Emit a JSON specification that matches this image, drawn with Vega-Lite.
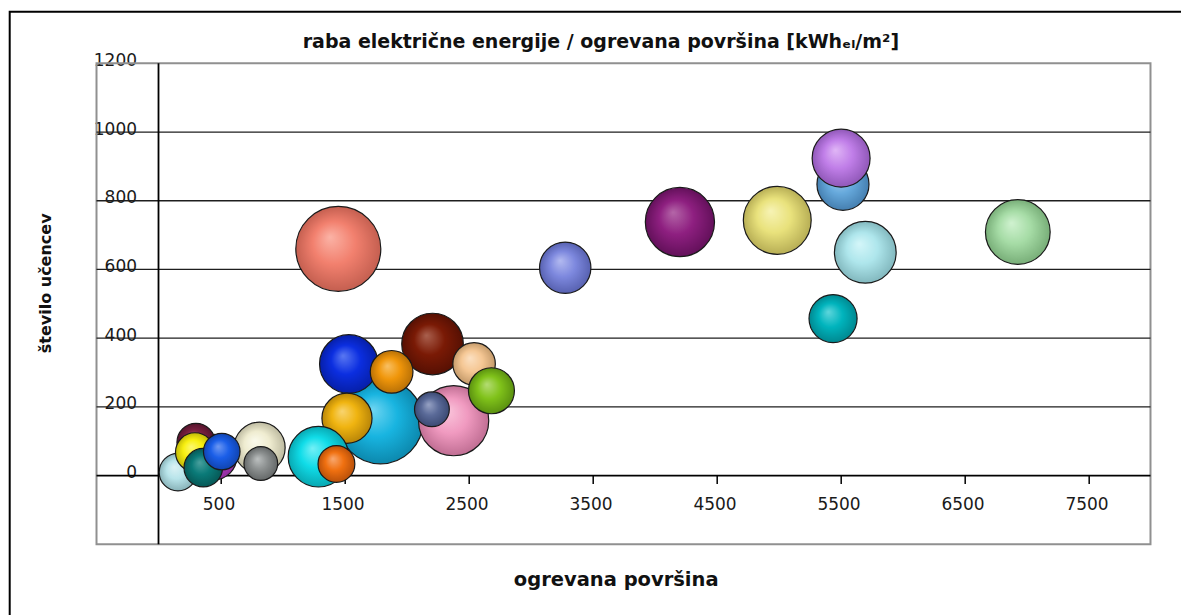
{
  "$schema": "https://vega.github.io/schema/vega-lite/v6.json",
  "width": 1190.4,
  "height": 635.6,
  "autosize": {"type": "none"},
  "padding": {"left": 9.7, "top": 11.8, "right": 0, "bottom": 0},
  "background": "white",
  "config": {
    "view": {"stroke": "#000000", "strokeWidth": 2},
    "axis": {"labelFont": "DejaVu Sans", "titleFont": "DejaVu Sans"}
  },
  "title": {
    "text": "raba električne energije / ogrevana površina [kWhₑₗ/m²]",
    "font": "DejaVu Sans",
    "fontSize": 19,
    "fontWeight": "bold",
    "color": "#111111",
    "anchor": "middle",
    "frame": "group",
    "baseline": "alphabetic",
    "offset": -55,
    "dx": -4
  },
  "datasets": {
    "sole": [
      {"id": "b01", "povrsina": 1450, "ucenci": 660, "raba": 40.0},
      {"id": "b02", "povrsina": 3280, "ucenci": 605, "raba": 14.6},
      {"id": "b03", "povrsina": 4205, "ucenci": 738, "raba": 26.5},
      {"id": "b04", "povrsina": 4990, "ucenci": 743, "raba": 25.5},
      {"id": "b05", "povrsina": 5520, "ucenci": 848, "raba": 15.0},
      {"id": "b06", "povrsina": 5505, "ucenci": 924, "raba": 18.6},
      {"id": "b07", "povrsina": 5700, "ucenci": 650, "raba": 21.1},
      {"id": "b08", "povrsina": 5440, "ucenci": 457, "raba": 12.8},
      {"id": "b09", "povrsina": 6930, "ucenci": 709, "raba": 23.2},
      {"id": "b10", "povrsina": 1790, "ucenci": 158, "raba": 40.0},
      {"id": "b11", "povrsina": 1535, "ucenci": 325, "raba": 19.0},
      {"id": "b12", "povrsina": 2210, "ucenci": 383, "raba": 21.0},
      {"id": "b13", "povrsina": 2380, "ucenci": 160, "raba": 27.3},
      {"id": "b14", "povrsina": 1520, "ucenci": 167, "raba": 13.9},
      {"id": "b15", "povrsina": 1880, "ucenci": 302, "raba": 10.1},
      {"id": "b16", "povrsina": 2545, "ucenci": 325, "raba": 10.0},
      {"id": "b17", "povrsina": 2685, "ucenci": 247, "raba": 11.7},
      {"id": "b18", "povrsina": 2205, "ucenci": 193, "raba": 6.7},
      {"id": "b19", "povrsina": 1290, "ucenci": 55, "raba": 20.3},
      {"id": "b20", "povrsina": 1435, "ucenci": 34, "raba": 7.5},
      {"id": "b21", "povrsina": 815, "ucenci": 81, "raba": 14.5},
      {"id": "b22", "povrsina": 825, "ucenci": 35, "raba": 6.3},
      {"id": "b23", "povrsina": 448, "ucenci": 54, "raba": 11.4},
      {"id": "b24", "povrsina": 254, "ucenci": 31, "raba": 7.8},
      {"id": "b25", "povrsina": 157, "ucenci": 10, "raba": 7.8},
      {"id": "b26", "povrsina": 302, "ucenci": 97, "raba": 8.0},
      {"id": "b27", "povrsina": 294, "ucenci": 68, "raba": 8.4},
      {"id": "b28", "povrsina": 361, "ucenci": 23, "raba": 8.2},
      {"id": "b29", "povrsina": 510, "ucenci": 70, "raba": 7.4}
    ],
    "mreza": [{"v": 200}, {"v": 400}, {"v": 600}, {"v": 800}, {"v": 1000}]
  },
  "layer": [
    {
      "data": {"values": [{}]},
      "mark": {"type": "rect", "filled": false, "stroke": "#909090", "strokeWidth": 2},
      "encoding": {
        "x": {"datum": -500, "type": "quantitative"},
        "x2": {"datum": 8000},
        "y": {"datum": -200, "type": "quantitative"},
        "y2": {"datum": 1200}
      }
    },
    {
      "data": {"name": "mreza"},
      "mark": {"type": "rule", "stroke": "#1e1e1e", "strokeWidth": 1.3},
      "encoding": {
        "y": {"field": "v", "type": "quantitative"},
        "x": {"datum": -500, "type": "quantitative"},
        "x2": {"datum": 8000}
      }
    },
    {
      "data": {"values": [{}]},
      "mark": {"type": "rule", "stroke": "#000000", "strokeWidth": 1.8},
      "encoding": {
        "y": {"datum": 0, "type": "quantitative"},
        "x": {"datum": -500, "type": "quantitative"},
        "x2": {"datum": 8000}
      }
    },
    {
      "data": {"values": [{}]},
      "mark": {"type": "rule", "stroke": "#000000", "strokeWidth": 1.8},
      "encoding": {
        "x": {"datum": 0, "type": "quantitative"},
        "y": {"datum": -200, "type": "quantitative"},
        "y2": {"datum": 1200}
      }
    },
    {
      "data": {"name": "sole"},
      "mark": {"type": "point", "shape": "circle", "filled": true, "opacity": 1, "stroke": "#1a1a1a", "strokeWidth": 1.2},
      "encoding": {
        "x": {
          "field": "povrsina",
          "type": "quantitative",
          "scale": {"domain": [-1200, 8400], "nice": false, "zero": false},
          "axis": {
            "title": "ogrevana površina",
            "values": [500, 1500, 2500, 3500, 4500, 5500, 6500, 7500],
            "format": "d",
            "offset": -171.8,
            "domain": false,
            "grid": false,
            "ticks": true,
            "tickSize": 8,
            "tickColor": "#000000",
            "tickWidth": 1.5,
            "labelPadding": 13,
            "labelFontSize": 17,
            "labelColor": "#1a1a1a",
            "labelOffset": -2,
            "titleFontSize": 19.5,
            "titleFontWeight": "bold",
            "titleColor": "#111111",
            "titleX": 606,
            "titleY": 104,
            "titleBaseline": "middle"
          }
        },
        "y": {
          "field": "ucenci",
          "type": "quantitative",
          "scale": {"domain": [-500, 1350], "nice": false, "zero": false},
          "axis": {
            "title": "število učencev",
            "values": [0, 200, 400, 600, 800, 1000, 1200],
            "format": "d",
            "offset": -148.8,
            "domain": false,
            "grid": false,
            "ticks": false,
            "labelPadding": 22,
            "labelFontSize": 17,
            "labelColor": "#1a1a1a",
            "labelBaseline": "middle",
            "labelOffset": -3,
            "titleFontSize": 16,
            "titleFontWeight": "bold",
            "titleColor": "#111111",
            "titleAngle": -90,
            "titleAlign": "center",
            "titleBaseline": "middle",
            "titleX": -113,
            "titleY": 271
          }
        },
        "size": {
          "field": "raba",
          "type": "quantitative",
          "scale": {"domain": [0, 40], "range": [0, 7225]},
          "legend": null
        },
        "color": {
          "field": "id",
          "type": "nominal",
          "legend": null,
          "scale": {
            "domain": ["b01","b02","b03","b04","b05","b06","b07","b08","b09","b10","b11","b12","b13","b14","b15","b16","b17","b18","b19","b20","b21","b22","b23","b24","b25","b26","b27","b28","b29"],
            "range": [
              {"expr": "{gradient:'radial',x1:0.4,y1:0.36,r1:0,x2:0.5,y2:0.5,r2:0.5,stops:[{offset:0,color:'#fbb3a6'},{offset:0.5,color:'#f2806e'},{offset:1,color:'#c45f50'}]}"},
              {"expr": "{gradient:'radial',x1:0.4,y1:0.36,r1:0,x2:0.5,y2:0.5,r2:0.5,stops:[{offset:0,color:'#b3baf0'},{offset:0.5,color:'#7d88de'},{offset:1,color:'#5761b0'}]}"},
              {"expr": "{gradient:'radial',x1:0.4,y1:0.36,r1:0,x2:0.5,y2:0.5,r2:0.5,stops:[{offset:0,color:'#b466a8'},{offset:0.5,color:'#8e1f80'},{offset:1,color:'#63105a'}]}"},
              {"expr": "{gradient:'radial',x1:0.4,y1:0.36,r1:0,x2:0.5,y2:0.5,r2:0.5,stops:[{offset:0,color:'#f7f3b5'},{offset:0.5,color:'#e9e27c'},{offset:1,color:'#b7ae55'}]}"},
              {"expr": "{gradient:'radial',x1:0.4,y1:0.36,r1:0,x2:0.5,y2:0.5,r2:0.5,stops:[{offset:0,color:'#a6d0f0'},{offset:0.5,color:'#66a9dc'},{offset:1,color:'#457fb0'}]}"},
              {"expr": "{gradient:'radial',x1:0.4,y1:0.36,r1:0,x2:0.5,y2:0.5,r2:0.5,stops:[{offset:0,color:'#e0b6f6'},{offset:0.5,color:'#c07ee8'},{offset:1,color:'#9058b8'}]}"},
              {"expr": "{gradient:'radial',x1:0.4,y1:0.36,r1:0,x2:0.5,y2:0.5,r2:0.5,stops:[{offset:0,color:'#d4f6f9'},{offset:0.5,color:'#aee6ec'},{offset:1,color:'#82b8be'}]}"},
              {"expr": "{gradient:'radial',x1:0.4,y1:0.36,r1:0,x2:0.5,y2:0.5,r2:0.5,stops:[{offset:0,color:'#5fd6dc'},{offset:0.5,color:'#00b4bd'},{offset:1,color:'#008890'}]}"},
              {"expr": "{gradient:'radial',x1:0.4,y1:0.36,r1:0,x2:0.5,y2:0.5,r2:0.5,stops:[{offset:0,color:'#d0f2d0'},{offset:0.5,color:'#a6dca6'},{offset:1,color:'#78ae78'}]}"},
              {"expr": "{gradient:'radial',x1:0.4,y1:0.36,r1:0,x2:0.5,y2:0.5,r2:0.5,stops:[{offset:0,color:'#70d6f2'},{offset:0.5,color:'#18b4e0'},{offset:1,color:'#0c88ad'}]}"},
              {"expr": "{gradient:'radial',x1:0.4,y1:0.36,r1:0,x2:0.5,y2:0.5,r2:0.5,stops:[{offset:0,color:'#5a78f2'},{offset:0.5,color:'#0b2ee0'},{offset:1,color:'#061fa8'}]}"},
              {"expr": "{gradient:'radial',x1:0.4,y1:0.36,r1:0,x2:0.5,y2:0.5,r2:0.5,stops:[{offset:0,color:'#a9604e'},{offset:0.5,color:'#7a1a05'},{offset:1,color:'#561003'}]}"},
              {"expr": "{gradient:'radial',x1:0.4,y1:0.36,r1:0,x2:0.5,y2:0.5,r2:0.5,stops:[{offset:0,color:'#fac6dc'},{offset:0.5,color:'#f09ac0'},{offset:1,color:'#c06e93'}]}"},
              {"expr": "{gradient:'radial',x1:0.4,y1:0.36,r1:0,x2:0.5,y2:0.5,r2:0.5,stops:[{offset:0,color:'#f8d470'},{offset:0.5,color:'#f0b410'},{offset:1,color:'#b88508'}]}"},
              {"expr": "{gradient:'radial',x1:0.4,y1:0.36,r1:0,x2:0.5,y2:0.5,r2:0.5,stops:[{offset:0,color:'#f8c064'},{offset:0.5,color:'#f0960a'},{offset:1,color:'#b87006'}]}"},
              {"expr": "{gradient:'radial',x1:0.4,y1:0.36,r1:0,x2:0.5,y2:0.5,r2:0.5,stops:[{offset:0,color:'#fbe0c2'},{offset:0.5,color:'#f5c794'},{offset:1,color:'#c49a6a'}]}"},
              {"expr": "{gradient:'radial',x1:0.4,y1:0.36,r1:0,x2:0.5,y2:0.5,r2:0.5,stops:[{offset:0,color:'#b4dc74'},{offset:0.5,color:'#80c21a'},{offset:1,color:'#5a9010'}]}"},
              {"expr": "{gradient:'radial',x1:0.4,y1:0.36,r1:0,x2:0.5,y2:0.5,r2:0.5,stops:[{offset:0,color:'#97a2c4'},{offset:0.5,color:'#5a6a98'},{offset:1,color:'#3c4a74'}]}"},
              {"expr": "{gradient:'radial',x1:0.4,y1:0.36,r1:0,x2:0.5,y2:0.5,r2:0.5,stops:[{offset:0,color:'#74f0f6'},{offset:0.5,color:'#10dce8'},{offset:1,color:'#08a8b2'}]}"},
              {"expr": "{gradient:'radial',x1:0.4,y1:0.36,r1:0,x2:0.5,y2:0.5,r2:0.5,stops:[{offset:0,color:'#f8a870'},{offset:0.5,color:'#f07010'},{offset:1,color:'#b8500a'}]}"},
              {"expr": "{gradient:'radial',x1:0.4,y1:0.36,r1:0,x2:0.5,y2:0.5,r2:0.5,stops:[{offset:0,color:'#fafaec'},{offset:0.5,color:'#efecd0'},{offset:1,color:'#bdbaa0'}]}"},
              {"expr": "{gradient:'radial',x1:0.4,y1:0.36,r1:0,x2:0.5,y2:0.5,r2:0.5,stops:[{offset:0,color:'#bcc0c0'},{offset:0.5,color:'#8c9090'},{offset:1,color:'#646868'}]}"},
              {"expr": "{gradient:'radial',x1:0.4,y1:0.36,r1:0,x2:0.5,y2:0.5,r2:0.5,stops:[{offset:0,color:'#da88e6'},{offset:0.5,color:'#c040d0'},{offset:1,color:'#8e2c9c'}]}"},
              {"expr": "{gradient:'radial',x1:0.4,y1:0.36,r1:0,x2:0.5,y2:0.5,r2:0.5,stops:[{offset:0,color:'#5a70c0'},{offset:0.5,color:'#102a8a'},{offset:1,color:'#0a1c60'}]}"},
              {"expr": "{gradient:'radial',x1:0.4,y1:0.36,r1:0,x2:0.5,y2:0.5,r2:0.5,stops:[{offset:0,color:'#dcf2f5'},{offset:0.5,color:'#b8e4ea'},{offset:1,color:'#88b2b8'}]}"},
              {"expr": "{gradient:'radial',x1:0.4,y1:0.36,r1:0,x2:0.5,y2:0.5,r2:0.5,stops:[{offset:0,color:'#a86480'},{offset:0.5,color:'#7a2040'},{offset:1,color:'#55142c'}]}"},
              {"expr": "{gradient:'radial',x1:0.4,y1:0.36,r1:0,x2:0.5,y2:0.5,r2:0.5,stops:[{offset:0,color:'#fcf870'},{offset:0.5,color:'#f8f010'},{offset:1,color:'#c0b808'}]}"},
              {"expr": "{gradient:'radial',x1:0.4,y1:0.36,r1:0,x2:0.5,y2:0.5,r2:0.5,stops:[{offset:0,color:'#4aa09e'},{offset:0.5,color:'#0a7a78'},{offset:1,color:'#065856'}]}"},
              {"expr": "{gradient:'radial',x1:0.4,y1:0.36,r1:0,x2:0.5,y2:0.5,r2:0.5,stops:[{offset:0,color:'#6e98f2'},{offset:0.5,color:'#1a5ee8'},{offset:1,color:'#1044b0'}]}"}
            ]
          }
        }
      }
    }
  ]
}
